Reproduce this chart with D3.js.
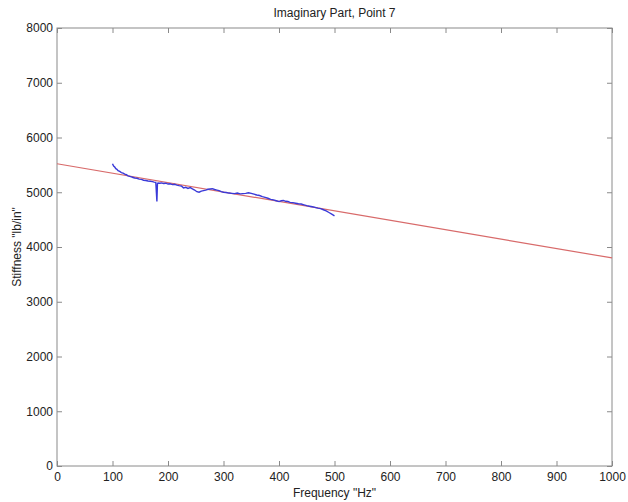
<!DOCTYPE html>
<html>
<head>
<meta charset="utf-8">
<script src="https://cdn.jsdelivr.net/npm/d3@7"></script>
<style>
  body { margin: 0; background: #fff; }
  text { font-family: "Liberation Sans", Arial, sans-serif; fill: #222; }
</style>
</head>
<body>
<svg width="628" height="502"></svg>
<script>
const width = 628;
const height = 502;

// measured blue trace (freq in Hz, stiffness in lb/in)
const freq = [100, 102, 104, 106, 108, 110, 113, 116, 119, 122, 125, 128, 131, 134, 137, 140, 144, 148, 152, 156,
  160, 164, 168, 172, 175, 178, 180, 181, 182, 185, 188, 192, 196, 200, 204, 208, 212, 216, 220, 224,
  228, 232, 236, 240, 244, 248, 252, 256, 260, 264, 268, 272, 276, 280, 284, 288, 292, 296, 300, 305,
  310, 315, 320, 325, 330, 335, 340, 345, 350, 355, 360, 365, 370, 375, 380, 385, 390, 395, 400, 404,
  408, 412, 416, 420, 425, 430, 435, 440, 445, 450, 455, 460, 465, 470, 475, 480, 485, 490, 495, 500];
const stiffness = [5520, 5480, 5460, 5430, 5420, 5395, 5380, 5360, 5350, 5330, 5320, 5300, 5290, 5280, 5270, 5260, 5255, 5240, 5235, 5220,
  5215, 5205, 5200, 5195, 5185, 5180, 4830, 5160, 5170, 5165, 5170, 5160, 5165, 5150, 5155, 5140, 5145, 5130, 5120, 5115,
  5080, 5090, 5070, 5085, 5060, 5040, 5010, 5000, 5020, 5030, 5040, 5055, 5060, 5065, 5050, 5040, 5030, 5010, 5000, 4995,
  4985, 4980, 4975, 4985, 4970, 4975, 4980, 4990, 4980, 4965, 4950, 4940, 4920, 4905, 4890, 4870, 4860, 4845, 4830, 4845,
  4850, 4835, 4830, 4815, 4810, 4800, 4790, 4785, 4770, 4755, 4745, 4735, 4725, 4710, 4700, 4680, 4660, 4630, 4600, 4570];

// fitted red line
const fitFreq = [0, 1000];
const fitStiffness = [5520, 3800];

const xTicks = [0, 100, 200, 300, 400, 500, 600, 700, 800, 900, 1000];
const yTicks = [0, 1000, 2000, 3000, 4000, 5000, 6000, 7000, 8000];

const margin = {left: 57, right: 16, top: 28, bottom: 36};
const svg = d3.select('svg');

const x = d3.scaleLinear().domain([0, 1000]).range([margin.left, width - margin.right]);
const y = d3.scaleLinear().domain([0, 8000]).range([height - margin.bottom, margin.top]);

const axisColor = '#8a8a8a';
const fmt = d3.format('d');

// box
svg.append('rect')
  .attr('x', x(0)).attr('y', y(8000))
  .attr('width', x(1000) - x(0)).attr('height', y(0) - y(8000))
  .attr('fill', 'none').attr('stroke', axisColor).attr('stroke-width', 1);

function styleAxis(g) {
  g.select('.domain').remove();
  g.selectAll('.tick line').attr('stroke', axisColor);
  g.selectAll('.tick text').attr('font-size', 12).attr('fill', '#222');
}

svg.append('g')
  .attr('transform', `translate(0,${y(0)})`)
  .call(d3.axisBottom(x).tickValues(xTicks).tickSizeInner(-5).tickSizeOuter(0).tickPadding(6).tickFormat(fmt))
  .call(styleAxis);

svg.append('g')
  .attr('transform', `translate(0,${y(8000)})`)
  .call(d3.axisTop(x).tickValues(xTicks).tickSizeInner(-5).tickSizeOuter(0).tickFormat(''))
  .call(styleAxis);

svg.append('g')
  .attr('transform', `translate(${x(0)},0)`)
  .call(d3.axisLeft(y).tickValues(yTicks).tickSizeInner(-5).tickSizeOuter(0).tickPadding(4).tickFormat(fmt))
  .call(styleAxis);

svg.append('g')
  .attr('transform', `translate(${x(1000)},0)`)
  .call(d3.axisRight(y).tickValues(yTicks).tickSizeInner(-5).tickSizeOuter(0).tickFormat(''))
  .call(styleAxis);

const line = d3.line().x(d => x(d[0])).y(d => y(d[1]));

svg.append('path')
  .datum(fitFreq.map((f, i) => [f, fitStiffness[i]]))
  .attr('d', line)
  .attr('fill', 'none')
  .attr('stroke', '#d86a6a')
  .attr('stroke-width', 1.2);

svg.append('path')
  .datum(freq.map((f, i) => [f, stiffness[i]]))
  .attr('d', line)
  .attr('fill', 'none')
  .attr('stroke', '#3a3ad8')
  .attr('stroke-width', 1.4);

svg.append('text')
  .attr('x', (x(0) + x(1000)) / 2).attr('y', 17)
  .attr('text-anchor', 'middle').attr('font-size', 12)
  .text('Imaginary Part, Point 7');

svg.append('text')
  .attr('x', (x(0) + x(1000)) / 2).attr('y', 497)
  .attr('text-anchor', 'middle').attr('font-size', 12)
  .text('Frequency "Hz"');

svg.append('text')
  .attr('transform', `translate(21,${(y(0) + y(8000)) / 2}) rotate(-90)`)
  .attr('text-anchor', 'middle').attr('font-size', 12)
  .text('Stiffness "lb/in"');
</script>
</body>
</html>
